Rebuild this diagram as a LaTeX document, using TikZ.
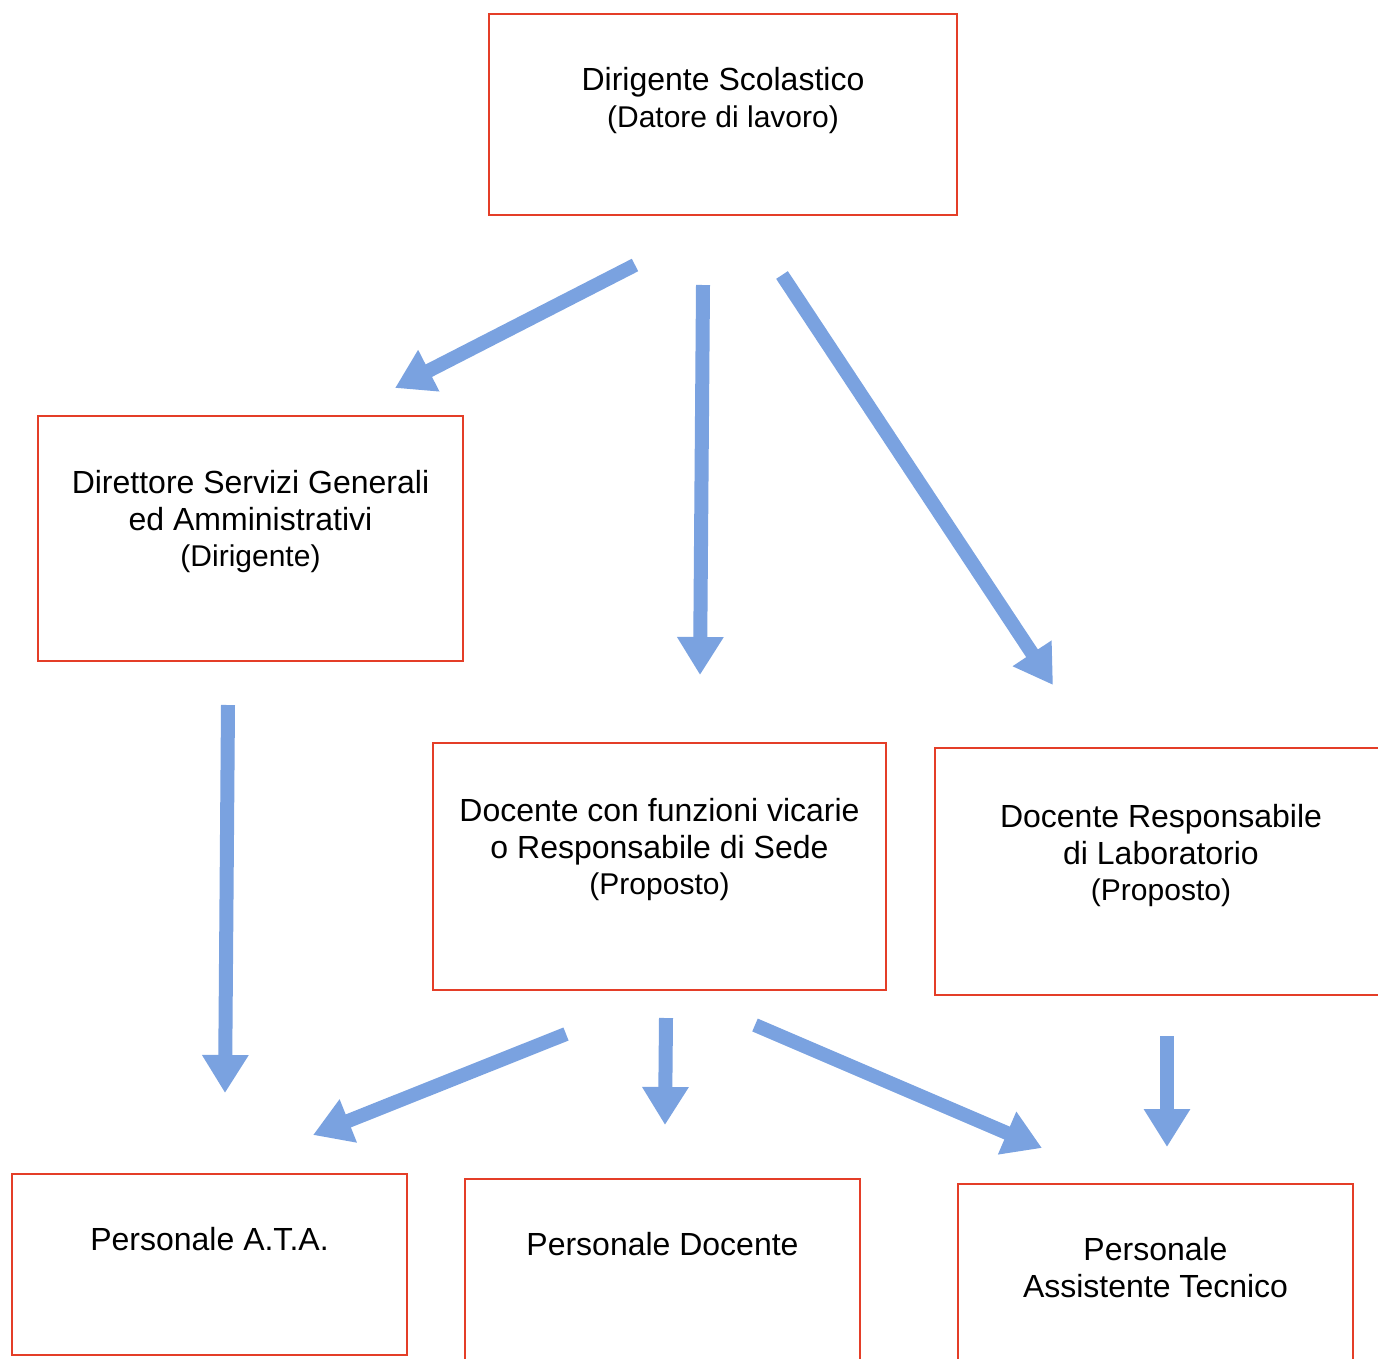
\documentclass[tikz,border=0pt]{standalone}
\usepackage{fontspec}
\setmainfont{Liberation Sans}
\usetikzlibrary{arrows.meta,positioning}
\definecolor{boxred}{RGB}{228,62,40}
\definecolor{arrowblue}{RGB}{122,162,224}

\begin{document}
\begin{tikzpicture}[x=1pt,y=-1pt,
    box/.style={draw=boxred, line width=1.4pt, inner sep=0pt},
    txt/.style={align=center, inner sep=0pt, anchor=north, font=\fontsize{32}{36.5}\selectfont},
    blockarrow/.style={line width=14pt, draw=arrowblue, -{Triangle[length=38pt,width=44pt]}}]
    \useasboundingbox (0,0) rectangle (1378,1358);
    % boxes
    \node[box, minimum width=468pt, minimum height=201pt] (ds) at (723,114.5) {};
    \node[box, minimum width=425pt, minimum height=245pt] (dsga) at (250.5,538.5) {};
    \node[box, minimum width=453pt, minimum height=247pt] (vic) at (659.5,866.5) {};
    \node[box, minimum width=457pt, minimum height=247pt] (lab) at (1163.5,871.5) {};
    \node[box, minimum width=395pt, minimum height=181pt] (ata) at (209.5,1264.5) {};
    \node[box, minimum width=395pt, minimum height=183pt] (doc) at (662.5,1270.5) {};
    \node[box, minimum width=395pt, minimum height=178pt] (ass) at (1155.5,1273) {};
    % texts
    \node[txt, below=54pt of ds.north] (dstxt) {Dirigente Scolastico\\ \fontsize{30}{36.5}\selectfont(Datore di lavoro)};
    \node[txt, below=55pt of dsga.north] (dsgatxt) {Direttore Servizi Generali\\ ed Amministrativi\\ \fontsize{30}{36.5}\selectfont(Dirigente)};
    \node[txt, below=56pt of vic.north] (victxt) {Docente con funzioni vicarie\\ o Responsabile di Sede\\ \fontsize{30}{36.5}\selectfont(Proposto)};
    \node[txt, below=57pt of lab.north, xshift=-2.5pt] (labtxt) {Docente Responsabile\\ di Laboratorio\\ \fontsize{30}{36.5}\selectfont(Proposto)};
    \node[txt, below=54pt of ata.north] (atatxt) {Personale A.T.A.};
    \node[txt, below=54pt of doc.north] (doctxt) {Personale Docente};
    \node[txt, below=54pt of ass.north] (asstxt) {Personale\\ Assistente Tecnico};
    % arrow ends
    \coordinate (a1s) at (635,265);  \coordinate (a1e) at (395,388);
    \coordinate (a2s) at (703,285);  \coordinate (a2e) at (700,675);
    \coordinate (a3s) at (782,275);  \coordinate (a3e) at (1053,685);
    \coordinate (a4s) at (228,705);  \coordinate (a4e) at (225,1093);
    \coordinate (a5s) at (566,1034); \coordinate (a5e) at (313,1135);
    \coordinate (a6s) at (666,1018); \coordinate (a6e) at (665,1125);
    \coordinate (a7s) at (755,1025); \coordinate (a7e) at (1042,1148);
    \coordinate (a8s) at (1167,1036); \coordinate (a8e) at (1167,1147);
    \foreach \i in {1,...,8}
        \draw[blockarrow] (a\i s) -- (a\i e);
\end{tikzpicture}
\end{document}
